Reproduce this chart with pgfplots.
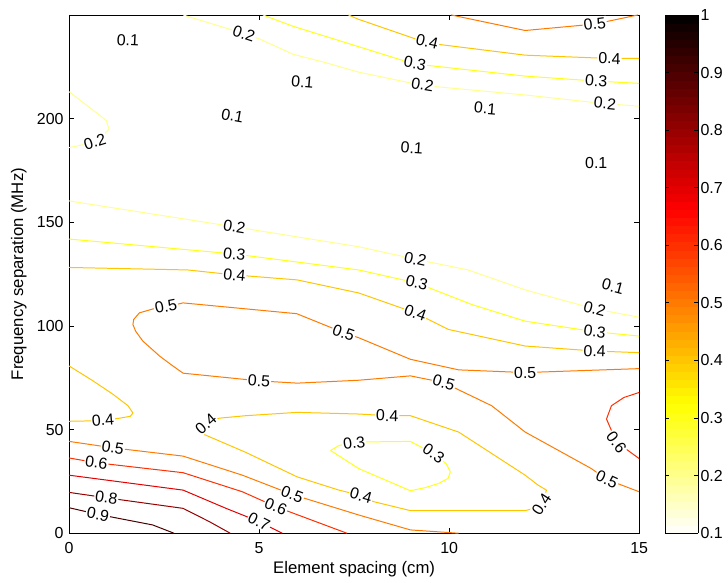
\documentclass[border=0pt]{standalone}
\usepackage{fontspec}
\setmainfont{Liberation Sans}
\usepackage{pgfplots}
\pgfplotsset{compat=1.18}
\definecolor{c02}{rgb}{1,1,0.556}
\definecolor{c03}{rgb}{1,1,0.111}
\definecolor{c04}{rgb}{1,0.778,0}
\definecolor{c05}{rgb}{1,0.481,0}
\definecolor{c06}{rgb}{1,0.185,0}
\definecolor{c07}{rgb}{0.889,0,0}
\definecolor{c08}{rgb}{0.593,0,0}
\definecolor{c09}{rgb}{0.296,0,0}
\pgfplotsset{colormap={hotr}{rgb(0cm)=(1,1,1); rgb(2cm)=(1,1,0); rgb(5cm)=(1,0,0); rgb(8cm)=(0,0,0)}}
\tikzset{clab/.style={fill=white, inner sep=1pt, text=black}}
\newcommand{\clabel}[5]{\addplot[draw=none, forget plot] coordinates {(#1,#2) (#3,#4)} node[clab, pos=0.5, sloped]{#5};}
\newcommand{\tlabel}[4]{\addplot[draw=none, forget plot] coordinates {(#1,#2)} node[clab, rotate=#3]{#4};}
\begin{document}
\fontsize{16pt}{19pt}\selectfont
\begin{tikzpicture}
\begin{axis}[
  scale only axis, width=572pt, height=520pt,
  xmin=0, xmax=15, ymin=0, ymax=250,
  xtick={0,5,10,15}, ytick={0,50,100,150,200},
  tick align=inside, tick pos=both, major tick length=5pt,
  axis line style={line width=0.8pt},
  every tick/.style={black, line width=0.8pt},
  /pgf/number format/assume math mode=true,
  xlabel={Element spacing (cm)}, ylabel={Frequency separation (MHz)},
  every axis x label/.style={at={(axis description cs:0.5,-0.0692)}, anchor=center, font=\fontsize{16.8pt}{20pt}\selectfont},
  every axis y label/.style={at={(axis description cs:-0.088,0.5)}, anchor=center, rotate=90, font=\fontsize{16.8pt}{20pt}\selectfont},
  xticklabel style={yshift=-4pt},
  colormap name=hotr, colorbar sampled, point meta min=0.1, point meta max=1,
  colorbar shift/.style={xshift=26pt},
  colorbar style={at={(parent axis.north east)}, anchor=north west, width=33pt, samples=65,
    ytick={0.1,0.2,0.3,0.4,0.5,0.6,0.7,0.8,0.9,1},
    yticklabels={0.1,0.2,0.3,0.4,0.5,0.6,0.7,0.8,0.9,1},
    tick align=inside, ytick pos=both, yticklabel pos=right, major tick length=4pt,
    yticklabel style={xshift=-3pt},
    axis line style={line width=0.8pt}, every tick/.style={black, line width=0.8pt}},
  every axis plot/.append style={line width=1pt},
]
% top region
\addplot[c02] coordinates {(3.0,250) (4.6,241) (5.0,238.5) (5.9,231) (6.75,227) (7.6,222.5) (9.3,216) (12,211.4) (14.1,207.2) (15,206)};
\addplot[c03] coordinates {(5.1,250) (5.9,244.5) (7.6,234.8) (9.07,226.4) (12,220.5) (13.87,218.1) (15,217)};
\addplot[c04] coordinates {(7.35,250) (7.6,248) (9.42,236.5) (12,230.6) (14.22,229) (15,229)};
\addplot[c05] coordinates {(10.05,250) (12,242.5) (13.83,245.6) (14.97,250)};
\addplot[c02] coordinates {(0,213) (0.54,205.3) (0.85,201) (0.98,199) (1.05,195) (0.89,191.8) (0.68,188.6) (0,186)};
% middle
\addplot[c02] coordinates {(0,160.3) (4.35,147.8) (7.62,138.2) (9.11,132.2) (10.5,127) (12,117.4) (13.83,108.2) (15,104.2)};
\addplot[c03] coordinates {(0,141.9) (4.35,134.7) (7.62,127) (9.15,120.7) (10.6,110.3) (12,102.3) (13.83,97.2) (15,95.1)};
\addplot[c04] coordinates {(0,128.2) (3.12,127) (4.35,124.6) (6,122.2) (7.62,115.9) (9.11,106.3) (9.98,98.3) (12,90.3) (13.83,87.9) (15,87.1)};
\addplot[c05] coordinates {(15,79.4) (12,77.5) (10.25,78.8) (8.98,83.9) (7.62,94.3) (7.23,96.7) (5.99,105.9) (3.0,111.1) (2.55,109.2) (2.21,108.2) (1.85,106.3) (1.70,103.1) (1.68,100.7) (1.75,97.5) (1.94,92.7) (2.38,85.5) (2.73,80.7) (3.0,77.2) (5.0,73.5) (6.0,72.4) (7.62,73.8) (8.98,75.9) (9.85,72.7) (11.12,61.5) (12,48.8) (13.74,31.2) (14.14,26) (15,20)};
\addplot[c04] coordinates {(0,80.7) (0.63,73.5) (1.15,67.1) (1.55,61.5) (1.68,58) (1.61,56.4) (1.33,55.5) (0.89,54.3) (0,54)};
\addplot[c04] coordinates {(3.52,47.9) (3.6,52.7) (3.95,55.5) (4.65,56.7) (6,58.3) (7.62,57.5) (8.37,56.7) (8.98,56.7) (10.25,48.8) (12,28) (12.34,23.2) (12.56,20.8) (12.43,13.6) (12.17,11.7) (12,10.9) (8.98,10.9) (8,15.3) (7.68,18.2) (7.1,20.8) (6,27.2) (4.65,39) (3.52,47.9)};
\addplot[c03] coordinates {(6.88,39.9) (7.1,42.3) (7.5,43.8) (7.62,44) (8.98,44.3) (9.59,38.4) (9.92,33.6) (10.03,29.6) (9.97,26.4) (9.72,24) (9.37,22) (8.98,20.5) (7.62,31.2) (6.88,39.9)};
\addplot[c06] coordinates {(15,67.9) (14.6,65.5) (14.27,61.5) (14.14,55.1) (14.4,44) (15,36)};
% bottom left
\addplot[c05] coordinates {(0,44.3) (1.15,41.2) (3,37.2) (4.56,28) (5.87,18.7) (7.62,8.8) (8.98,1.6) (10.25,0)};
\addplot[c06] coordinates {(0,36.3) (0.72,34) (3,29.2) (4.56,20) (5.44,12.8) (7.31,0)};
\addplot[c07] coordinates {(0,28) (3,20.8) (4.13,12) (5.0,5.6) (5.61,0)};
\addplot[c08] coordinates {(0,19.7) (0.98,17.1) (3,12) (3.69,5.6) (4.24,0)};
\addplot[c09] coordinates {(0,12.3) (0.76,9.1) (2.2,4.0) (2.76,0)};
% labels
\clabel{4.3}{242.7}{4.9}{239.1}{0.2}
\clabel{9.0}{217.2}{9.6}{215.4}{0.2}
\clabel{13.8}{207.9}{14.4}{206.8}{0.2}
\clabel{8.8}{227.6}{9.4}{225.7}{0.3}
\clabel{13.57}{218.4}{14.17}{217.8}{0.3}
\clabel{9.12}{238.3}{9.72}{235.8}{0.4}
\clabel{13.92}{229.1}{14.52}{228.9}{0.4}
\clabel{13.53}{245.0}{14.13}{246.4}{0.5}
\clabel{0.38}{187.1}{0.98}{190.5}{0.2}
\clabel{4.05}{148.7}{4.65}{146.9}{0.2}
\clabel{8.81}{133.4}{9.41}{131.0}{0.2}
\clabel{13.53}{109.7}{14.13}{106.7}{0.2}
\clabel{4.05}{135.4}{4.65}{134.0}{0.3}
\clabel{8.85}{122.0}{9.45}{119.4}{0.3}
\clabel{13.53}{98.0}{14.13}{96.6}{0.3}
\clabel{4.05}{125.2}{4.65}{124.0}{0.4}
\clabel{8.81}{108.3}{9.41}{104.3}{0.4}
\clabel{13.53}{88.1}{14.13}{87.7}{0.4}
\clabel{11.7}{77.4}{12.3}{77.6}{0.5}
\clabel{6.95}{98.5}{7.5}{95.0}{0.5}
\clabel{2.25}{108.3}{2.85}{110.5}{0.5}
\clabel{4.7}{73.9}{5.3}{73.2}{0.5}
\clabel{9.55}{74.2}{10.15}{71.0}{0.5}
\clabel{13.85}{28.6}{14.45}{23.6}{0.5}
\clabel{0.59}{54.1}{1.19}{55.0}{0.4}
\clabel{3.45}{50.2}{3.75}{55.0}{0.4}
\clabel{8.07}{56.9}{8.67}{56.6}{0.4}
\clabel{12.32}{10.8}{12.54}{17.0}{0.4}
\clabel{7.38}{19.7}{7.98}{16.6}{0.4}
\clabel{7.2}{42.9}{7.8}{44.2}{0.3}
\clabel{9.35}{41.4}{9.83}{35.4}{0.3}
\clabel{14.22}{48.5}{14.58}{39.5}{0.6}
\clabel{0.85}{42.0}{1.45}{40.4}{0.5}
\clabel{5.57}{20.8}{6.17}{16.6}{0.5}
\clabel{0.42}{34.9}{1.02}{33.4}{0.6}
\clabel{5.15}{15.2}{5.73}{10.8}{0.6}
\clabel{4.76}{7.8}{5.24}{3.4}{0.7}
\clabel{0.68}{17.9}{1.28}{16.4}{0.8}
\clabel{0.46}{10.1}{1.06}{8.1}{0.9}
\tlabel{1.55}{237.8}{-3}{0.1}
\tlabel{4.3}{201.3}{-10}{0.1}
\tlabel{6.14}{217.6}{-5}{0.1}
\tlabel{10.95}{204.9}{-5}{0.1}
\tlabel{9.02}{185.9}{-4}{0.1}
\tlabel{13.87}{178.7}{0}{0.1}
\tlabel{14.31}{119}{-15}{0.1}
\end{axis}
\path (-69.3pt,-47pt) rectangle (658.7pt,535pt);
\end{tikzpicture}
\end{document}
